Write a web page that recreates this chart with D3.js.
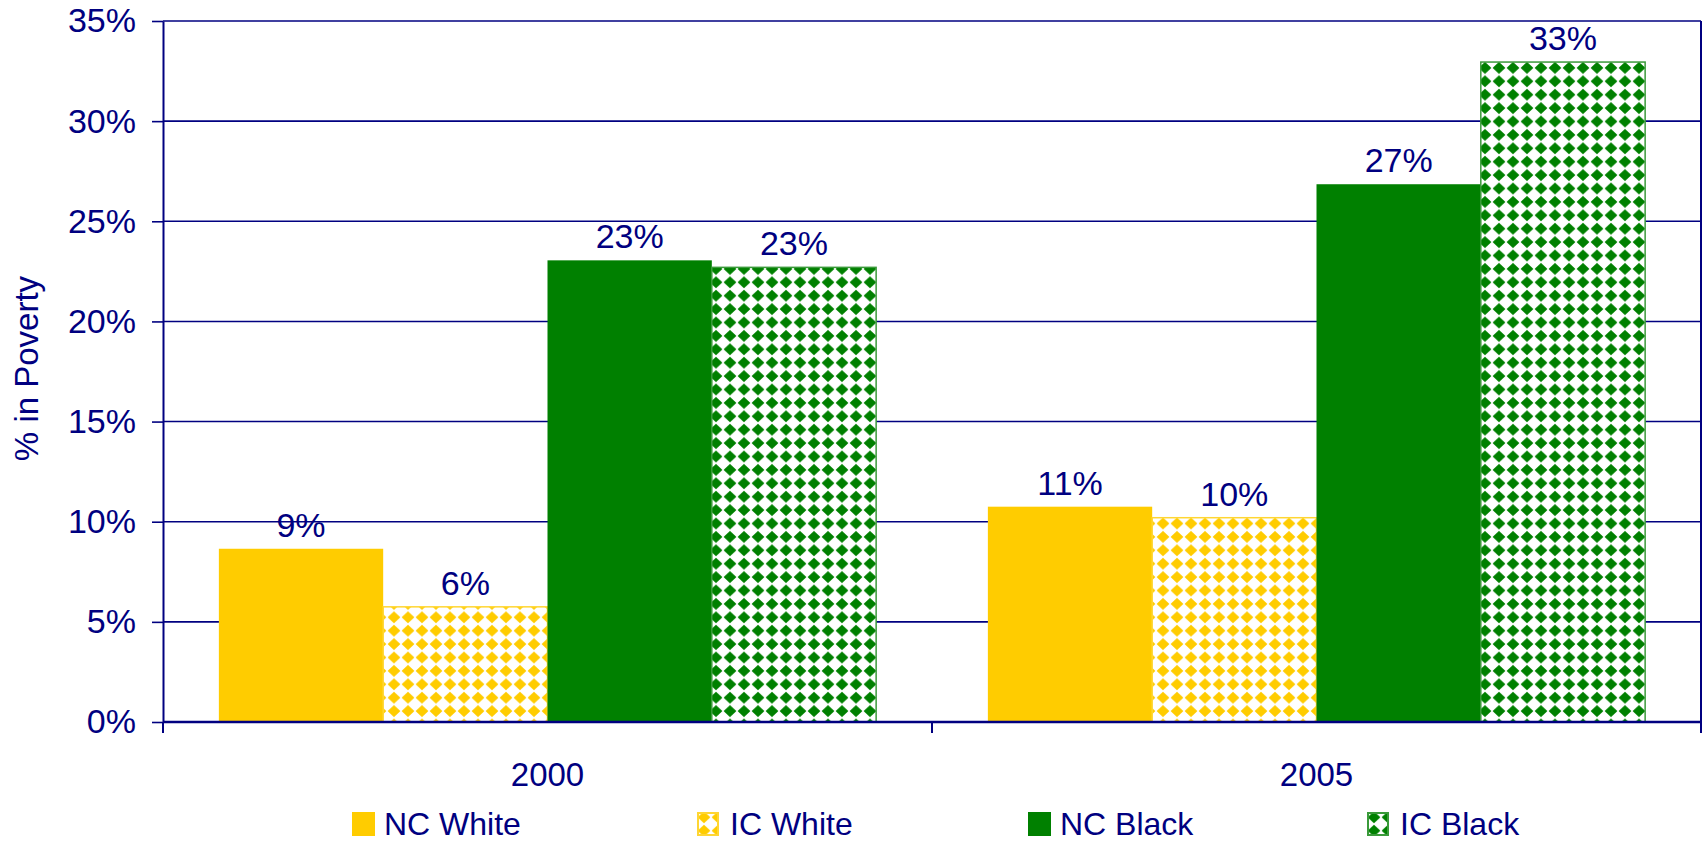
<!DOCTYPE html>
<html lang="en">
  <head>
    <meta charset="UTF-8" />
    <title>% in Poverty, 2000 vs 2005</title>
    <script src="https://d3js.org/d3.v7.min.js"></script>
    <style>
      body {
        margin: 0;
        background: #fff;
      }
      text {
        font-family: "Liberation Sans", Arial, sans-serif;
        fill: #000080;
      }
    </style>
  </head>

  <body>
    <svg id="chart" width="1706" height="843"></svg>
    <script>
      // data
      const years = ["2000", "2005"];
      const seriesNames = ["NC White", "IC White", "NC Black", "IC Black"];
      const ncWhite = [8.65, 10.75];
      const icWhite = [5.75, 10.2];
      const ncBlack = [23.05, 26.85];
      const icBlack = [22.7, 32.95];
      const barLabels = [
        ["9%", "6%", "23%", "23%"],
        ["11%", "10%", "27%", "33%"],
      ];
      const yTicks = [0, 5, 10, 15, 20, 25, 30, 35];

      const seriesValues = [ncWhite, icWhite, ncBlack, icBlack];
      const colors = ["#FFCC00", "#FFCC00", "#008000", "#008000"];
      const patterned = [false, true, false, true];
      const navy = "#000080";

      const svg = d3.select("#chart"),
        margin = { top: 21, right: 5, bottom: 121, left: 163 },
        width = +svg.attr("width"),
        height = +svg.attr("height"),
        chartWidth = width - margin.left - margin.right,
        chartHeight = height - margin.top - margin.bottom;

      // diamond patterns
      const defs = svg.append("defs");
      const makePattern = (id, color) => {
        const p = defs
          .append("pattern")
          .attr("id", id)
          .attr("patternUnits", "userSpaceOnUse")
          .attr("width", 14)
          .attr("height", 13.4);
        p.append("rect").attr("width", 14).attr("height", 13.4).attr("fill", "#fff");
        p.append("polygon")
          .attr("points", "7,0.6 13.4,6.7 7,12.8 0.6,6.7")
          .attr("fill", color);
      };
      makePattern("pat-yellow", "#FFCC00");
      makePattern("pat-green", "#008000");
      const fillFor = (i) =>
        patterned[i]
          ? colors[i] === "#008000"
            ? "url(#pat-green)"
            : "url(#pat-yellow)"
          : colors[i];
      const strokeFor = (i) =>
        patterned[i] ? (colors[i] === "#008000" ? "#3a9a3a" : "#FFD633") : "none";

      const g = svg
        .append("g")
        .attr("transform", `translate(${margin.left},${margin.top})`);

      const x0 = d3.scaleBand().domain(years).range([0, chartWidth]);
      const x1 = d3
        .scaleBand()
        .domain(d3.range(seriesNames.length))
        .range([0, x0.bandwidth()])
        .paddingOuter(0.34);
      const y = d3.scaleLinear().domain([0, 35]).range([chartHeight, 0]);

      // gridlines
      g.append("g")
        .selectAll("line")
        .data(yTicks.slice(1))
        .join("line")
        .attr("x1", 0)
        .attr("x2", chartWidth)
        .attr("y1", (d) => y(d))
        .attr("y2", (d) => y(d))
        .attr("stroke", navy)
        .attr("stroke-width", 1.6);

      // bars
      const groups = g
        .selectAll(".year")
        .data(years)
        .join("g")
        .attr("class", "year")
        .attr("transform", (d) => `translate(${x0(d)},0)`);

      groups
        .selectAll("rect")
        .data((d, yi) => seriesValues.map((vals, si) => ({ si, yi, v: vals[yi] })))
        .join("rect")
        .attr("x", (d) => x1(d.si))
        .attr("width", x1.bandwidth())
        .attr("y", (d) => y(d.v))
        .attr("height", (d) => y(0) - y(d.v))
        .attr("fill", (d) => fillFor(d.si))
        .attr("stroke", (d) => strokeFor(d.si))
        .attr("stroke-width", 1.5);

      groups
        .selectAll("text.lbl")
        .data((d, yi) => seriesValues.map((vals, si) => ({ si, yi, v: vals[yi] })))
        .join("text")
        .attr("class", "lbl")
        .attr("x", (d) => x1(d.si) + x1.bandwidth() / 2)
        .attr("y", (d) => y(d.v) - 12)
        .attr("text-anchor", "middle")
        .style("font-size", "34px")
        .text((d) => barLabels[d.yi][d.si]);

      // y axis
      const yAxis = g
        .append("g")
        .call(
          d3
            .axisLeft(y)
            .tickValues(yTicks)
            .tickSize(11)
            .tickSizeOuter(0)
            .tickPadding(16)
            .tickFormat((d) => d + "%")
        );
      yAxis.select(".domain").attr("stroke", navy).attr("stroke-width", 2);
      yAxis.selectAll(".tick line").attr("stroke", navy).attr("stroke-width", 1.6);
      yAxis
        .selectAll(".tick text")
        .attr("fill", navy)
        .style("font-size", "34px")
        .style("font-family", "'Liberation Sans', Arial, sans-serif");

      // x axis
      const xAxis = g
        .append("g")
        .attr("transform", `translate(0,${chartHeight})`);
      xAxis
        .append("line")
        .attr("x1", 0)
        .attr("x2", chartWidth)
        .attr("stroke", navy)
        .attr("stroke-width", 2.4);
      xAxis
        .selectAll("line.tk")
        .data([0, 1, 2])
        .join("line")
        .attr("class", "tk")
        .attr("x1", (d) => d * x0.step())
        .attr("x2", (d) => d * x0.step())
        .attr("y1", 0)
        .attr("y2", 11)
        .attr("stroke", navy)
        .attr("stroke-width", 2);
      xAxis
        .selectAll("text")
        .data(years)
        .join("text")
        .attr("x", (d) => x0(d) + x0.bandwidth() / 2)
        .attr("y", 64)
        .attr("text-anchor", "middle")
        .style("font-size", "33px")
        .text((d) => d);

      // right border
      g.append("line")
        .attr("x1", chartWidth)
        .attr("x2", chartWidth)
        .attr("y1", 0)
        .attr("y2", chartHeight)
        .attr("stroke", navy)
        .attr("stroke-width", 2);

      // y axis title
      svg
        .append("text")
        .attr("transform", `translate(38,${margin.top + chartHeight / 2 - 3}) rotate(-90)`)
        .attr("text-anchor", "middle")
        .style("font-size", "33px")
        .text("% in Poverty");

      // legend
      const legendX = [352, 697, 1028, 1367];
      const legend = svg
        .selectAll(".legend")
        .data(seriesNames)
        .join("g")
        .attr("class", "legend")
        .attr("transform", (d, i) => `translate(${legendX[i]},824)`);
      legend
        .append("rect")
        .attr("x", (d, i) => (patterned[i] ? 1 : 0))
        .attr("y", (d, i) => (patterned[i] ? -11 : -12))
        .attr("width", (d, i) => (patterned[i] ? 20 : 23))
        .attr("height", (d, i) => (patterned[i] ? 22 : 24))
        .attr("fill", (d, i) => fillFor(i))
        .attr("stroke", (d, i) => strokeFor(i))
        .attr("stroke-width", 2);
      legend
        .append("text")
        .attr("x", (d, i) => (patterned[i] ? 33 : 32))
        .attr("y", 11)
        .style("font-size", "32px")
        .text((d) => d);
    </script>
  </body>
</html>
